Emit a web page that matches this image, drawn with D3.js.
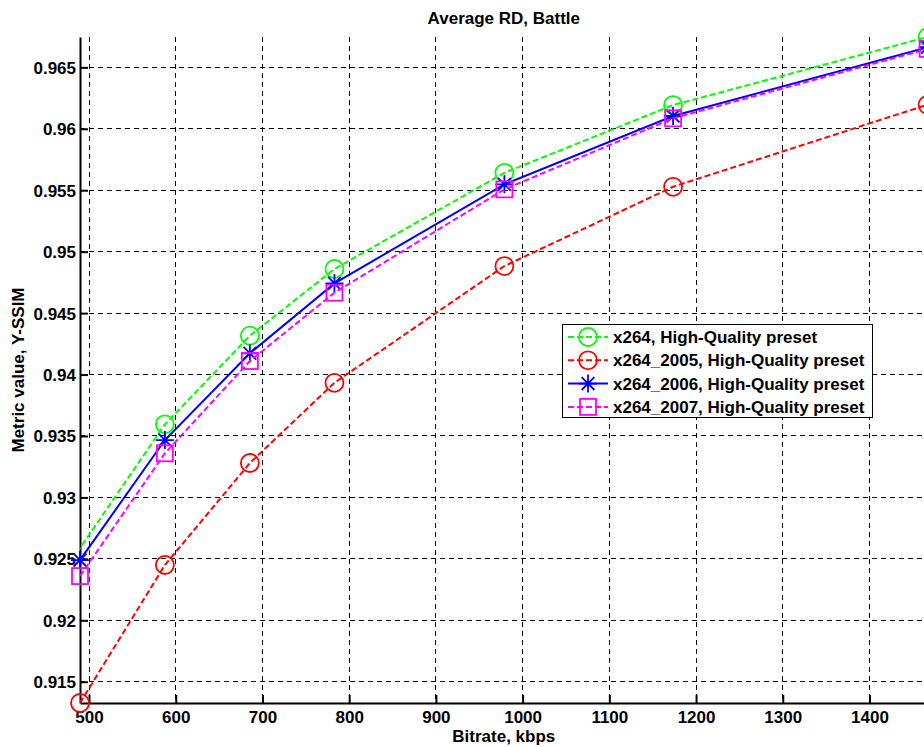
<!DOCTYPE html>
<html>
<head>
<meta charset="utf-8">
<script src="https://cdn.jsdelivr.net/npm/d3@7/dist/d3.min.js"></script>
<style>
  html, body { margin: 0; padding: 0; background: #fff; }
  svg { display: block; }
  text { font-family: "Liberation Sans", Arial, Helvetica, sans-serif; font-weight: bold; fill: #000; }
</style>
</head>
<body>
<svg id="chart" width="924" height="747"></svg>
<script>
// ---- data ----
const bitrates = [489.6, 587.5, 685.5, 783, 979, 1173.5, 1467];
const x264Bitrates = [486, 587.5, 685.5, 783, 979, 1173.5, 1467];
const seriesNames = [
  "x264, High-Quality preset",
  "x264_2005, High-Quality preset",
  "x264_2006, High-Quality preset",
  "x264_2007, High-Quality preset"
];
const x264Values     = [0.92551, 0.93595, 0.94316, 0.94859, 0.95642, 0.96193, 0.96747];
const x264_2005Values = [0.91327, 0.92450, 0.93280, 0.93933, 0.94883, 0.95528, 0.96196];
const x264_2006Values = [0.92490, 0.93467, 0.94173, 0.94742, 0.95548, 0.96104, 0.96664];
const x264_2007Values = [0.92360, 0.93359, 0.94110, 0.94666, 0.95507, 0.96085, 0.96650];
const xTicks = [500, 600, 700, 800, 900, 1000, 1100, 1200, 1300, 1400];
const xTickLabels = ["500", "600", "700", "800", "900", "1000", "1100", "1200", "1300", "1400"];
const yTicks = [0.915, 0.92, 0.925, 0.93, 0.935, 0.94, 0.945, 0.95, 0.955, 0.96, 0.965];
const yTickLabels = ["0.915", "0.92", "0.925", "0.93", "0.935", "0.94", "0.945", "0.95", "0.955", "0.96", "0.965"];
const titleText = "Average RD, Battle";
const xLabelText = "Bitrate, kbps";
const yLabelText = "Metric value, Y-SSIM";

(function () {
// ---- styling ----
const styles = [
  { color: "#00ff00", dash: "6,3", marker: "circle" },
  { color: "#ff0000", dash: "6,3", marker: "circle" },
  { color: "#0000ff", dash: null,  marker: "asterisk" },
  { color: "#ff00ff", dash: "6,3", marker: "square" }
];
const allValues = [x264Values, x264_2005Values, x264_2006Values, x264_2007Values];
const allBitrates = [x264Bitrates, bitrates, bitrates, bitrates];

const svg = d3.select("#chart");
const pL = 80, pR = 927.6, pT = 37, pB = 703;
const xDomain = [489.6, 1467];

const x = d3.scaleLinear().domain(xDomain).range([pL, pR]);
const y = d3.scaleLinear().domain([0.91327, 0.96747]).range([pB, pT]);

svg.append("rect").attr("width", 924).attr("height", 747).attr("fill", "#fff");
svg.append("defs").append("clipPath").attr("id", "plotclip")
  .append("rect").attr("x", pL).attr("y", 0).attr("width", 924).attr("height", 747);

// grid
const grid = svg.append("g");
grid.selectAll("line.gx").data(xTicks).join("line")
  .attr("x1", d => x(d)).attr("x2", d => x(d))
  .attr("y1", pT).attr("y2", pB)
  .attr("stroke", "#000").attr("stroke-width", 1).attr("stroke-dasharray", "5,4").attr("shape-rendering", "crispEdges");
grid.selectAll("line.gy").data(yTicks).join("line")
  .attr("x1", pL).attr("x2", pR)
  .attr("y1", d => y(d)).attr("y2", d => y(d))
  .attr("stroke", "#000").attr("stroke-width", 1).attr("stroke-dasharray", "5,4").attr("shape-rendering", "crispEdges");

// axes
const xAxis = d3.axisBottom(x).tickValues(xTicks).tickSizeInner(-8).tickSizeOuter(0).tickPadding(8)
  .tickFormat((d, i) => xTickLabels[i]);
const yAxis = d3.axisLeft(y).tickValues(yTicks).tickSizeInner(-8).tickSizeOuter(0).tickPadding(4)
  .tickFormat((d, i) => yTickLabels[i]);

const gx = svg.append("g").attr("transform", `translate(0,${pB})`).call(xAxis);
const gy = svg.append("g").attr("transform", `translate(${pL},0)`).call(yAxis);
[gx, gy].forEach(g => {
  g.select(".domain").attr("stroke", "#000").attr("stroke-width", 2);
  g.selectAll(".tick line").attr("stroke", "#000").attr("stroke-width", 2);
  g.selectAll(".tick text").attr("font-size", 17).attr("font-family", "Liberation Sans, Arial, sans-serif").attr("font-weight", "bold").attr("fill", "#000");
});
gy.selectAll(".tick text").attr("dy", "0.35em");

// lines and markers
function drawMarker(g, type, color, cx, cy) {
  if (type === "circle") {
    g.append("circle").attr("cx", cx).attr("cy", cy).attr("r", 9)
      .attr("fill", "none").attr("stroke", color).attr("stroke-width", 1.8);
  } else if (type === "square") {
    g.append("rect").attr("x", cx - 8).attr("y", cy - 8).attr("width", 16).attr("height", 16)
      .attr("fill", "none").attr("stroke", color).attr("stroke-width", 1.8);
  } else {
    const a = 9, b = 6.4;
    const p = `M${cx - a},${cy}L${cx + a},${cy}M${cx},${cy - a}L${cx},${cy + a}` +
              `M${cx - b},${cy - b}L${cx + b},${cy + b}M${cx - b},${cy + b}L${cx + b},${cy - b}`;
    g.append("path").attr("d", p).attr("stroke", color).attr("stroke-width", 1.8).attr("fill", "none");
  }
}

const line = d3.line().x(d => x(d[0])).y(d => y(d[1]));
allValues.forEach((vals, si) => {
  const st = styles[si];
  const pts = allBitrates[si].map((b, i) => [b, vals[i]]);
  const g = svg.append("g");
  g.append("path").datum(pts).attr("d", line).attr("clip-path", "url(#plotclip)")
    .attr("fill", "none").attr("stroke", st.color).attr("stroke-width", 2)
    .attr("stroke-dasharray", st.dash);
  pts.filter(p => p[0] >= xDomain[0] - 0.01)
    .forEach(p => drawMarker(g, st.marker, st.color, x(p[0]), y(p[1])));
});

// title and labels
svg.append("text").attr("x", (pL + pR) / 2).attr("y", 24).attr("text-anchor", "middle")
  .attr("font-size", 17).text(titleText);
svg.append("text").attr("x", (pL + pR) / 2).attr("y", 742).attr("text-anchor", "middle")
  .attr("font-size", 17).text(xLabelText);
svg.append("text").attr("transform", `translate(24,${(pT + pB) / 2}) rotate(-90)`)
  .attr("text-anchor", "middle").attr("font-size", 17).text(yLabelText);

// legend
const lg = svg.append("g");
lg.append("rect").attr("x", 562.5).attr("y", 324.5).attr("width", 310).attr("height", 93)
  .attr("fill", "#fff").attr("stroke", "#000").attr("stroke-width", 1);
seriesNames.forEach((name, i) => {
  const st = styles[i];
  const ry = 337 + i * 23.3;
  lg.append("line").attr("x1", 568).attr("x2", 608).attr("y1", ry).attr("y2", ry)
    .attr("stroke", st.color).attr("stroke-width", 2).attr("stroke-dasharray", st.dash);
  drawMarker(lg, st.marker, st.color, 588, ry);
  lg.append("text").attr("x", 613).attr("y", ry).attr("dy", "0.35em").attr("font-size", 17).text(name);
});
})();
</script>
</body>
</html>
